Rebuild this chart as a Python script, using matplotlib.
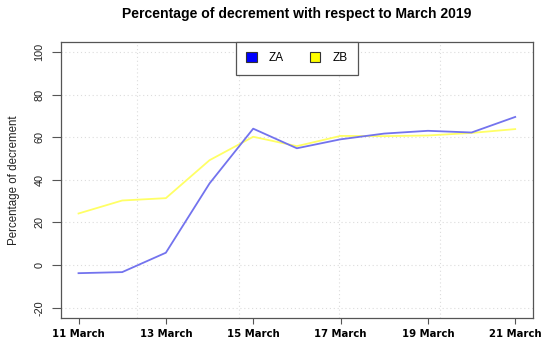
import numpy as np
import matplotlib
matplotlib.use("Agg")
from matplotlib import pyplot as plt
from matplotlib.patches import Patch

# days of March 2019
days = [11, 12, 13, 14, 15, 16, 17, 18, 19, 20, 21]
za = [-3.8, -3.3, 5.8, 38.3, 64.0, 54.8, 59.0, 61.7, 63.0, 62.2, 69.5]
zb = [24.2, 30.3, 31.4, 49.2, 60.2, 55.8, 60.6, 60.5, 60.8, 62.0, 63.8]
xticks = [11, 13, 15, 17, 19, 21]
xtick_labels = ["11 March", "13 March", "15 March", "17 March", "19 March", "21 March"]
yticks = [-20, 0, 20, 40, 60, 80, 100]
vgrid = [12.34, 14.67, 16.97, 19.28]

fig = plt.figure(figsize=(5.5, 3.49), dpi=100)
ax = fig.add_axes([0.111, 0.089, 0.8575, 0.7915])

# dotted grid like R's grid()
for y in yticks:
    ax.axhline(y, color="#dcdcdc", lw=0.8, ls=(0, (1, 2.5)), zorder=0)
for x in vgrid:
    ax.axvline(x, color="#dcdcdc", lw=0.8, ls=(0, (1, 2.5)), zorder=0)

ax.plot(days, zb, color="#ffff66", lw=1.3)
ax.plot(days, za, color="#7373ee", lw=1.3)

ax.set_xlim(10.6, 21.4)
ax.set_ylim(-24.8, 104.8)
ax.set_xticks(xticks)
ax.set_xticklabels(xtick_labels, fontfamily="DejaVu Sans", fontweight="bold", fontsize=7.3)
ax.set_yticks(yticks)
ax.set_yticklabels([str(v) for v in yticks], rotation=90, va="center",
                   fontfamily="Liberation Sans", fontsize=7.8, color="#222222")
ax.tick_params(axis="y", length=6.5, width=0.8, color="#555555", pad=5.5)
ax.tick_params(axis="x", length=4.3, width=0.8, color="#555555", pad=4)
for s in ax.spines.values():
    s.set_color("#555555")
    s.set_linewidth(0.9)

ax.set_ylabel("Percentage of decrement", fontfamily="Liberation Sans", fontsize=8.3,
              color="#222222", labelpad=10)
fig.text(0.54, 0.96, "Percentage of decrement with respect to March 2019",
         ha="center", va="center", fontfamily="Liberation Sans", fontweight="bold",
         fontsize=10.1)

handles = [Patch(facecolor="blue", edgecolor="#333333", lw=0.8, label="ZA"),
           Patch(facecolor="yellow", edgecolor="#333333", lw=0.8, label="ZB")]
leg = ax.legend(handles=handles, loc="upper center", ncol=2, fancybox=False,
                framealpha=1, edgecolor="#555555", borderaxespad=0,
                prop={"family": "Liberation Sans", "size": 8.5},
                handlelength=0.9, handleheight=0.9, columnspacing=2.2,
                borderpad=0.9, handletextpad=1.0)
leg.get_frame().set_linewidth(0.9)

fig.savefig("out.png", dpi=100)
